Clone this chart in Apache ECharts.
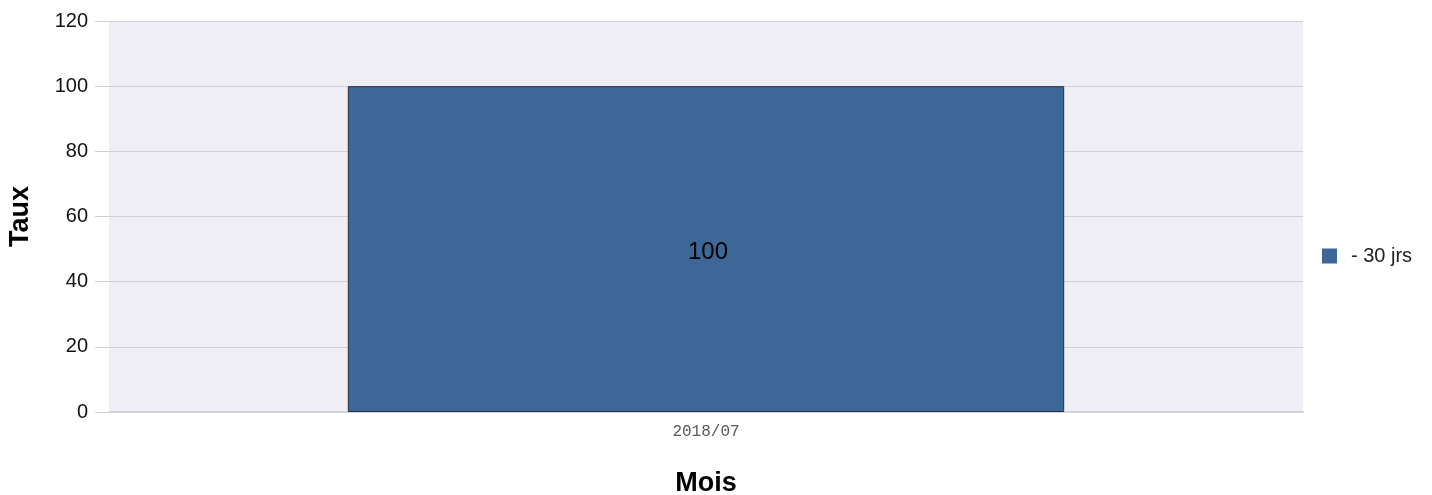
<!DOCTYPE html>
<html><head><meta charset="utf-8">
<script src="https://cdn.jsdelivr.net/npm/echarts@6/dist/echarts.min.js"></script>
<style>html,body{margin:0;padding:0;background:#fff}#c{width:1432px;height:495px}</style>
</head><body><div id="c"></div>
<script>
const categories = ['2018/07'];
const seriesName = '- 30 jrs';
const values = [100];
const yTicks = { min: 0, max: 120, interval: 20 };
const xTitle = 'Mois';
const yTitle = 'Taux';

const chart = echarts.init(document.getElementById('c'), null, {renderer: 'canvas'});
chart.setOption({
  animation: false,
  textStyle: {fontFamily: 'Liberation Sans, Arial, sans-serif'},
  grid: {left: 109, right: 129, top: 21, bottom: 83, show: true, backgroundColor: '#efeef4', borderWidth: 0, outerBoundsMode: 'none', containLabel: false},
  legend: {
    left: 1322, top: 246, orient: 'vertical', padding: 0,
    itemWidth: 15, itemHeight: 15, icon: 'rect', itemGap: 10,
    itemStyle: {borderWidth: 0},
    textStyle: {fontSize: 20, color: '#222', padding: [0, 0, 0, 9], fontFamily: 'Liberation Sans, Arial, sans-serif'},
    data: [seriesName]
  },
  xAxis: {
    type: 'category', data: categories,
    name: xTitle, nameLocation: 'middle', nameGap: 58,
    nameTextStyle: {fontSize: 27, fontWeight: 'bold', color: '#000'},
    axisLine: {show: true, lineStyle: {color: '#d4d3dd', width: 2}},
    axisTick: {show: false},
    axisLabel: {fontFamily: 'Liberation Mono, DejaVu Sans Mono, monospace', fontSize: 16, color: '#5a5a5a', margin: 12}
  },
  yAxis: {
    type: 'value', min: yTicks.min, max: yTicks.max, interval: yTicks.interval,
    name: yTitle, nameLocation: 'middle', nameGap: 75, nameRotate: 90,
    nameTextStyle: {fontSize: 27, fontWeight: 'bold', color: '#000'},
    axisLine: {show: false},
    axisTick: {show: true, inside: false, length: 14, lineStyle: {color: '#cfcedb'}},
    axisLabel: {fontSize: 20, color: '#111', margin: 21, padding: [4, 0, 0, 0]},
    splitLine: {show: true, lineStyle: {color: '#cfcedb', width: 1}}
  },
  series: [{
    type: 'bar', name: seriesName, data: values, barWidth: '60%',
    itemStyle: {color: '#3c6797', borderColor: '#2a2f3a', borderWidth: 1},
    label: {show: true, position: 'inside', offset: [2, 3], fontSize: 24, color: '#000'}
  }]
});
</script></body></html>
